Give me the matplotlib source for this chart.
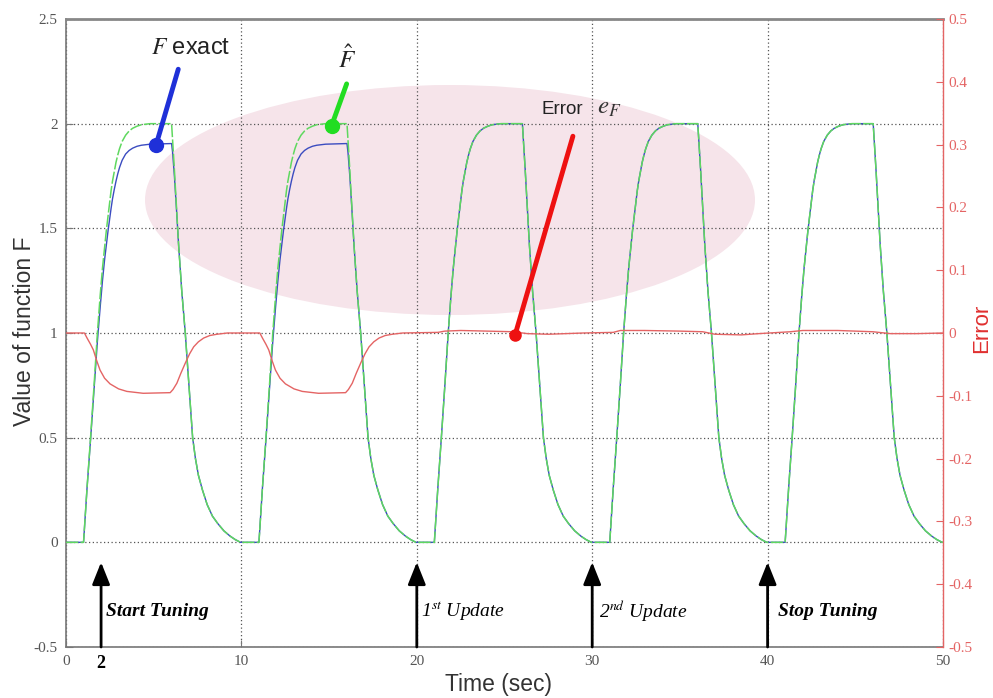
import matplotlib
matplotlib.use("Agg")
import matplotlib.pyplot as plt
from matplotlib.patches import Ellipse
from matplotlib.transforms import blended_transform_factory

plt.rcParams["mathtext.fontset"] = "stix"
plt.rcParams["font.family"] = ["Liberation Sans", "DejaVu Sans"]

# ---- data -------------------------------------------------------------
# onset times (s) of the rectangular command pulses
pulse_onsets = [1.0, 11.0, 21.0, 31.0, 41.0]
# pulses applied while the tuner is still learning (estimate differs)
tuning_onsets = [1.0, 11.0]

# time after each onset (s) at which the response was sampled
profile_offsets = [0.00, 0.10, 0.20, 0.40, 0.60, 0.79, 0.95, 1.08, 1.20, 1.30,
                   1.40, 1.48, 1.57, 1.65, 1.75, 1.85, 1.95, 2.05, 2.20, 2.40,
                   2.60, 2.80, 3.05, 3.30, 3.80, 5.02, 5.08, 5.18, 5.30, 5.42,
                   5.60, 5.80, 6.00, 6.22, 6.38, 6.55, 6.78, 7.05, 7.35, 7.65,
                   8.00, 8.35, 8.65, 8.95]
# estimated function F-hat over one pulse
fhat_profile = [0.00, 0.13, 0.26, 0.50, 0.75, 1.00, 1.18, 1.31, 1.41, 1.49,
                1.56, 1.62, 1.68, 1.725, 1.77, 1.815, 1.85, 1.88, 1.915, 1.945,
                1.965, 1.978, 1.988, 1.995, 2.00, 2.00, 1.92, 1.78, 1.60, 1.42,
                1.20, 1.00, 0.76, 0.50, 0.40, 0.32, 0.25, 0.18, 0.125, 0.09,
                0.055, 0.03, 0.013, 0.00]
# exact function F over one pulse during tuning
fexact_tuning_profile = [0.00, 0.13, 0.26, 0.49, 0.73, 0.96, 1.125, 1.25, 1.35, 1.42,
                         1.49, 1.54, 1.595, 1.64, 1.685, 1.725, 1.76, 1.79, 1.825, 1.855,
                         1.872, 1.883, 1.892, 1.897, 1.902, 1.905, 1.86, 1.75, 1.59, 1.42,
                         1.20, 1.00, 0.76, 0.50, 0.40, 0.32, 0.25, 0.18, 0.125, 0.09,
                         0.055, 0.03, 0.013, 0.00]

# estimation error e_F (right axis)
err_t = [0.0, 1.05, 1.2, 1.4, 1.56, 1.75, 1.94, 2.2, 2.51, 3.0, 3.47, 4.4, 5.94,
         6.1, 6.32, 6.55, 6.8, 7.05, 7.28, 7.55, 7.85, 8.2, 8.6, 9.2,
         11.05, 11.2, 11.4, 11.56, 11.75, 11.94, 12.2, 12.51, 13.0, 13.47, 14.4, 15.94,
         16.1, 16.32, 16.55, 16.8, 17.05, 17.28, 17.55, 17.85, 18.2, 18.6, 19.2,
         21.2, 21.6, 22.5, 24.0, 25.5, 26.3, 27.5, 28.5, 29.5,
         31.2, 31.6, 33.0, 35.0, 36.3, 37.0, 38.5, 39.5,
         41.3, 42.0, 44.0, 46.0, 47.0, 48.5, 50.0]
err_v = [0.0, 0.0, -0.008, -0.018, -0.027, -0.044, -0.059, -0.072, -0.081, -0.089, -0.093, -0.096, -0.095,
         -0.090, -0.080, -0.064, -0.048, -0.033, -0.022, -0.014, -0.008, -0.004, -0.002, 0.0,
         0.0, -0.008, -0.018, -0.027, -0.044, -0.059, -0.072, -0.081, -0.089, -0.093, -0.096, -0.095,
         -0.090, -0.080, -0.064, -0.048, -0.033, -0.022, -0.014, -0.008, -0.004, -0.002, 0.0,
         0.001, 0.003, 0.004, 0.003, 0.002, -0.001, -0.002, -0.001, 0.0,
         0.001, 0.004, 0.004, 0.003, 0.002, -0.002, -0.003, -0.001,
         0.002, 0.004, 0.004, 0.002, -0.001, -0.001, 0.0]

x_ticks = [0, 10, 20, 30, 40, 50]
left_ticks = [-0.5, 0, 0.5, 1, 1.5, 2, 2.5]
left_labels = ["-0.5", "0", "0.5", "1", "1.5", "2", "2.5"]
right_ticks = [-0.5, -0.4, -0.3, -0.2, -0.1, 0, 0.1, 0.2, 0.3, 0.4, 0.5]
right_labels = ["-0.5", "-0.4", "-0.3", "-0.2", "-0.1", "0",
                "0.1", "0.2", "0.3", "0.4", "0.5"]

event_x = [2, 20, 30, 40]


def assemble(profile_for):
    t, v = [0.0], [0.0]
    for onset in pulse_onsets:
        t += [onset + o for o in profile_offsets]
        v += list(profile_for(onset))
    t.append(50.0)
    v.append(0.0)
    return t, v


t_hat, f_hat = assemble(lambda on: fhat_profile)
t_exact, f_exact = assemble(
    lambda on: fexact_tuning_profile if on in tuning_onsets else fhat_profile)

# ---- figure -------------------------------------------------------------
fig = plt.figure(figsize=(9.93, 6.98), dpi=100, facecolor="white")

# faint pink backdrop seal, kept behind the axes
seal = Ellipse((450 / 993, 1 - 200 / 698), 610 / 993, 230 / 698,
               transform=fig.transFigure, facecolor="#f6e4ea",
               edgecolor="none", zorder=-5)
fig.patches.append(seal)

ax = fig.add_axes([66 / 993, 1 - 647 / 698, 877 / 993, 628 / 698])
ax.set_facecolor("none")
ax.set_zorder(1)
ax.set_xlim(0, 50)
ax.set_ylim(-0.5, 2.5)

grey = "#777777"
red = "#e46464"
for s in ["left", "bottom"]:
    ax.spines[s].set_color(grey)
    ax.spines[s].set_linewidth(1.2)
ax.spines["top"].set_color("#888888")
ax.spines["top"].set_linewidth(2.0)
ax.spines["right"].set_visible(False)

ax.set_xticks(x_ticks)
ax.set_xticklabels([str(v) for v in x_ticks])
ax.set_yticks(left_ticks)
ax.set_yticklabels(left_labels)
ax.tick_params(direction="in", length=5, color=grey, labelcolor="#555555",
               labelsize=11, pad=6)
for lab in ax.get_xticklabels() + ax.get_yticklabels():
    lab.set_family(["Liberation Serif", "DejaVu Serif"])

ax.grid(True, color="#555555", linestyle=(0, (1, 2)), linewidth=0.9)
ax.set_axisbelow(True)

ax.plot(t_exact, f_exact, color="#3b4cc0", lw=1.0, zorder=2)
ax.plot(t_hat, f_hat, color="#5fd85f", lw=1.1, linestyle=(0, (8, 1.5)), zorder=3)

ax2 = ax.twinx()
ax2.set_zorder(2)
ax2.set_facecolor("none")
ax2.set_ylim(-0.5, 0.5)
ax2.set_yticks(right_ticks)
ax2.set_yticklabels(right_labels)
for s in ["left", "bottom", "top"]:
    ax2.spines[s].set_visible(False)
ax2.spines["right"].set_color(red)
ax2.spines["right"].set_linewidth(1.0)
ax2.tick_params(direction="in", length=5, color=red, labelcolor=red,
                labelsize=11, pad=4)
for lab in ax2.get_yticklabels():
    lab.set_family(["Liberation Serif", "DejaVu Serif"])
ax2.plot(err_t, err_v, color=red, lw=1.0, zorder=3)

# pointer annotations (drawn in left-axis data coordinates)
tr = ax.transData
ax2.plot([6.4, 5.14], [2.26, 1.90], color="#1f30d8", lw=3.5, transform=tr,
         solid_capstyle="round", zorder=6)
ax2.plot([5.14], [1.90], "o", color="#1f30d8", ms=10, transform=tr, zorder=6)
ax2.plot([16.0, 15.14], [2.19, 1.99], color="#22dd22", lw=3.5, transform=tr,
         solid_capstyle="round", zorder=6)
ax2.plot([15.14], [1.99], "o", color="#22dd22", ms=10, transform=tr, zorder=6)
ax2.plot([28.9, 25.6], [1.94, 0.99], color="#ee1111", lw=3.5, transform=tr,
         solid_capstyle="round", zorder=6)
ax2.plot([25.6], [0.99], "o", color="#ee1111", ms=8, transform=tr, zorder=6)

ax2.text(7.1, 2.36, r"$F$ exact", transform=tr, ha="center", va="center",
         fontsize=17, color="#222222", zorder=7)
ax2.text(16.05, 2.31, r"$\hat{F}$", transform=tr, ha="center", va="center",
         fontsize=18, color="#222222", zorder=7)
ax2.text(27.1, 2.07, "Error", transform=tr, ha="left", va="center",
         fontsize=13.5, color="#222222", zorder=7)
ax2.text(30.3, 2.08, r"$e_F$", transform=tr, ha="left", va="center",
         fontsize=18, color="#333333", zorder=7)

# event arrows along the bottom
for x in event_x:
    ax2.annotate("", xy=(x, -0.095), xytext=(x, -0.5), xycoords=tr,
                 textcoords=tr,
                 arrowprops=dict(arrowstyle="-|>,head_length=0.75,head_width=0.3",
                                 color="black", lw=2.0, shrinkA=0, shrinkB=0,
                                 mutation_scale=18),
                 annotation_clip=False, zorder=8)

serif = ["Liberation Serif", "DejaVu Serif"]
ax2.text(2.3, -0.33, "Start Tuning", transform=tr, fontsize=14,
         fontstyle="italic", fontweight="bold", family=serif, va="center")
ax2.text(20.25, -0.33, r"1$^{st}$ Update", transform=tr, fontsize=14,
         fontstyle="italic", family=serif, va="center")
ax2.text(30.4, -0.33, r"2$^{nd}$ Update", transform=tr, fontsize=14,
         fontstyle="italic", family=serif, va="center")
ax2.text(40.6, -0.33, "Stop Tuning", transform=tr, fontsize=14,
         fontstyle="italic", fontweight="bold", family=serif, va="center")

bt = blended_transform_factory(ax.transData, ax.transAxes)
ax2.text(2, -0.012, "2", transform=bt, ha="center", va="top", fontsize=13,
         fontweight="bold", family=serif, color="black")

# axis titles
fig.text(25 / 993, 1 - 331 / 698, "Value of function F", rotation=90,
         ha="center", va="center", fontsize=16.5, color="#333333")
fig.text(498 / 993, 1 - 685 / 698, "Time (sec)", ha="center", va="center",
         fontsize=16.5, color="#333333")
fig.text(982 / 993, 1 - 328 / 698, "Error", rotation=90, ha="center",
         va="center", fontsize=16, color="#e03030")

fig.savefig("out.png", dpi=100, facecolor="white")
